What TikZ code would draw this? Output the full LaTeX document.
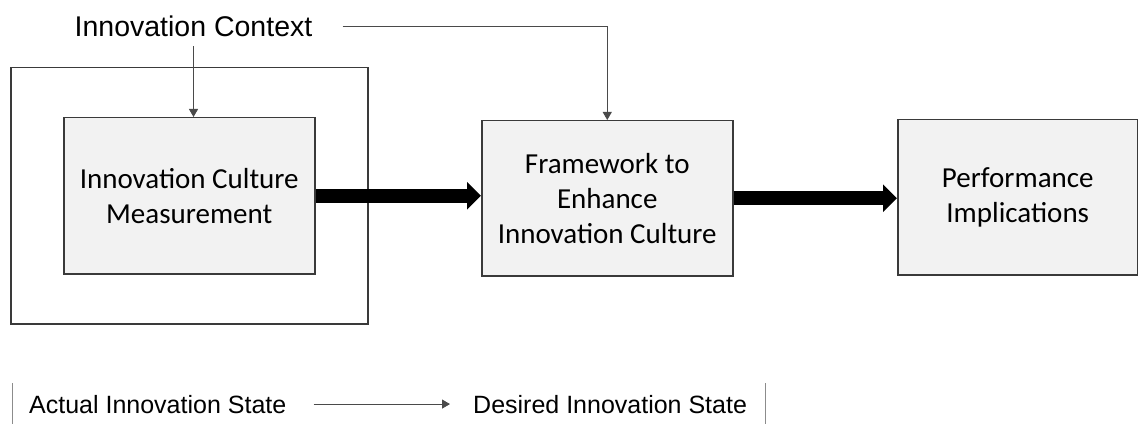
\documentclass[tikz,border=0pt]{standalone}
\usepackage{fontspec}
\setmainfont{Carlito}
\newfontfamily\labelfont{Liberation Sans}
\usetikzlibrary{arrows.meta}
\definecolor{boxfill}{HTML}{F2F2F2}
\definecolor{boxline}{HTML}{3A3A3A}
\definecolor{thinline}{HTML}{4A4A4A}
\definecolor{barline}{HTML}{8C8C8C}
\tikzset{
  stagebox/.style={draw=boxline, line width=1.5pt, fill=boxfill, align=center,
    inner sep=0pt, anchor=north west, font=\fontsize{29}{35}\selectfont},
  framebox/.style={draw=boxline, line width=1.5pt, inner sep=0pt, anchor=north west},
  bigarrow/.style={line width=14pt, line cap=butt,
    -{Triangle[length=14pt, width=27pt]}},
  thinarrow/.style={draw=thinline, line width=0.9pt,
    -{Triangle[length=8pt, width=9pt]}},
  ctxlabel/.style={inner sep=0pt, font=\labelfont\fontsize{28.5}{34}\selectfont},
  legendlabel/.style={inner sep=0pt, anchor=base west, font=\labelfont\fontsize{25}{30}\selectfont},
  legendbar/.style={draw=barline, line width=1pt}
}
\begin{document}
\begin{tikzpicture}[x=1pt, y=-1pt]
  \useasboundingbox (0,0) rectangle (1138,425);

  % measurement stage inside its context frame
  \node[framebox, minimum width=357pt, minimum height=256pt] (outer) at (10,67) {};
  \node[stagebox, minimum width=251pt, minimum height=156pt] (b1) at (63,117)
    {Innovation Culture\\Measurement};
  \node[stagebox, minimum width=251pt, minimum height=155pt] (b2) at (481,120)
    {Framework to\\Enhance\\Innovation Culture};
  \node[stagebox, minimum width=240pt, minimum height=155pt] (b3) at (897,119)
    {Performance\\Implications};

  % main flow
  \draw[bigarrow] (b1.east) -- (b1.east -| b2.west);
  \draw[bigarrow] (b2.east) -- (b2.east -| b3.west);

  % context influences
  \node[ctxlabel] (ctx) at (193.5,26.5) {Innovation Context};
  \draw[thinarrow] ([yshift=-9pt]ctx.south) -- (ctx.south |- b1.north);
  \draw[thinarrow] ([xshift=30pt]ctx.east) -| (b2.north);

  % state legend
  \node[legendlabel] (act) at (29,413) {Actual Innovation State};
  \node[legendlabel] (des) at (473,413) {Desired Innovation State};
  \draw[thinarrow] ([xshift=27pt]act.east) -- ([xshift=-23pt]des.west);
  \draw[legendbar] ([xshift=-17pt, yshift=21pt]act.west) -- ([xshift=-17pt, yshift=-20pt]act.west);
  \draw[legendbar] ([xshift=18pt, yshift=21pt]des.east) -- ([xshift=18pt, yshift=-20pt]des.east);
\end{tikzpicture}
\end{document}
